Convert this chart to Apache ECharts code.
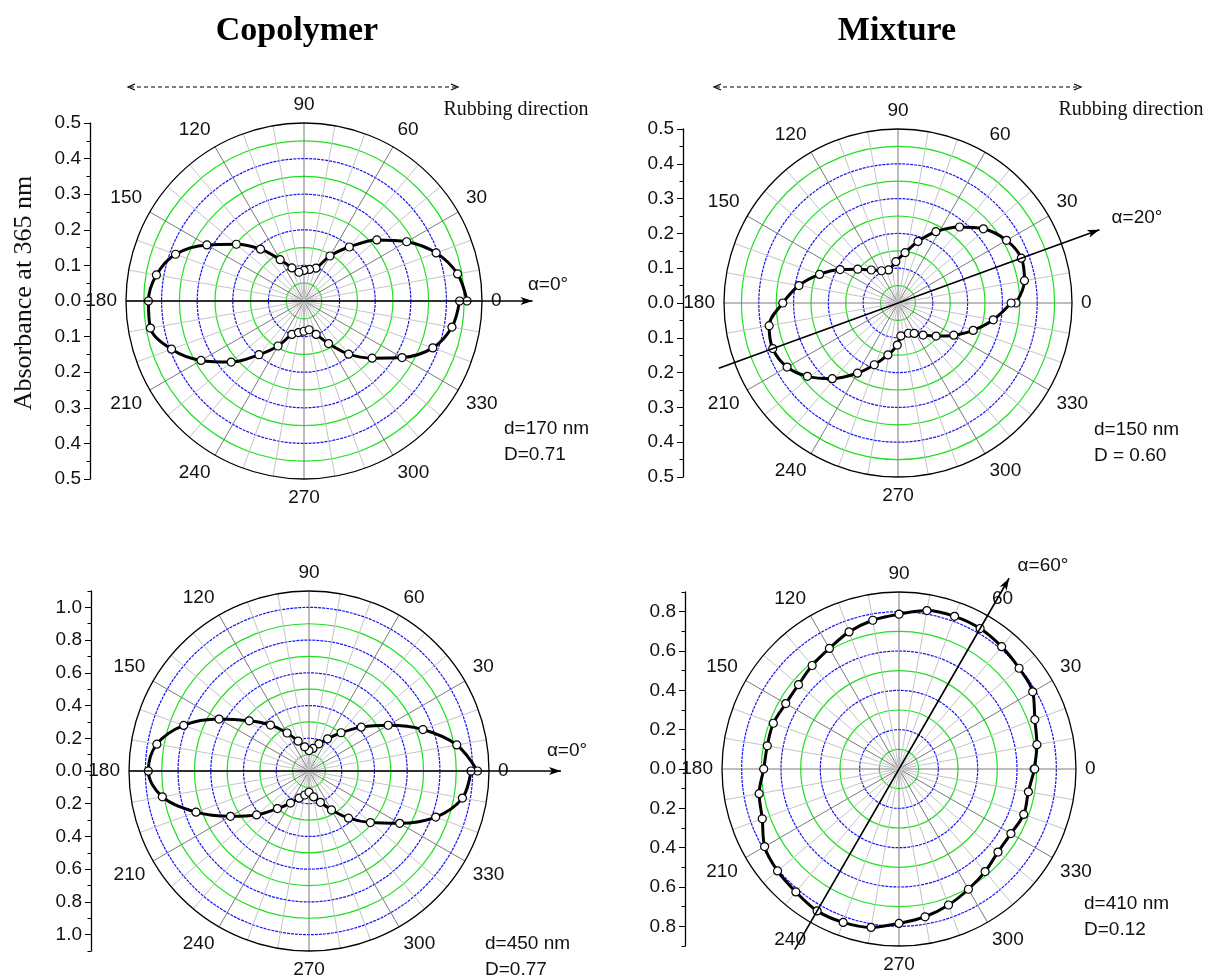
<!DOCTYPE html>
<html>
<head>
<meta charset="utf-8">
<script src="https://cdn.jsdelivr.net/npm/echarts@6/dist/echarts.min.js"></script>
<style>
  html, body { margin: 0; padding: 0; background: #fff; }
  #chart { width: 1208px; height: 979px; }
</style>
</head>
<body>
<div id="chart"></div>
<script>
// polar absorbance at 365 nm, angle in degrees
var copoThinAngle = [0,10,20,30,40,50,60,70,80,90,100,110,120,130,140,150,160,170,180,190,200,210,220,230,240,250,260,270,280,290,300,310,320,330,340,350,360];
var copoThinAbs   = [0.458,0.438,0.395,0.333,0.267,0.198,0.146,0.098,0.090,0.086,0.082,0.099,0.134,0.190,0.248,0.315,0.384,0.421,0.437,0.438,0.396,0.334,0.267,0.197,0.146,0.100,0.090,0.085,0.082,0.100,0.138,0.195,0.250,0.318,0.385,0.422,0.437];

var mixThinAngle = [0,10,20,30,41,51,62,72,82,93,106,117,129,140,150,160,170,180,190,200,210,219,229,240,249,259,269,275,289,298,308,319,330,340,350,360];
var mixThinAbs   = [0.339,0.369,0.377,0.360,0.325,0.281,0.232,0.186,0.146,0.119,0.099,0.104,0.122,0.151,0.192,0.240,0.289,0.331,0.376,0.383,0.368,0.335,0.288,0.233,0.190,0.152,0.121,0.095,0.092,0.099,0.117,0.145,0.185,0.230,0.278,0.325];

var copoThickAngle = [0,10,20,30,40,50,60,70,80,90,100,110,120,130,140,150,160,170,180,190,200,210,220,230,240,250,260,270,280,290,300,310,320,330,340,350,360];
var copoThickAbs   = [1.03,0.917,0.741,0.559,0.417,0.305,0.227,0.177,0.140,0.125,0.150,0.194,0.268,0.366,0.477,0.635,0.815,0.944,0.982,0.910,0.735,0.554,0.418,0.300,0.226,0.177,0.149,0.130,0.161,0.204,0.275,0.376,0.490,0.640,0.824,0.952,0.990];

var mixThickAngle = [0,10,20,30,40,50,60,70,80,90,100,110,120,130,140,150,160,170,180,190,200,210,220,230,240,250,260,270,280,290,300,310,320,330,340,350,360];
var mixThickAbs   = [0.687,0.712,0.735,0.785,0.797,0.812,0.825,0.826,0.818,0.787,0.768,0.742,0.708,0.687,0.667,0.665,0.680,0.680,0.688,0.722,0.740,0.789,0.806,0.816,0.833,0.830,0.818,0.785,0.763,0.736,0.706,0.681,0.657,0.657,0.675,0.668,0.690];

// radius scale of each panel
var radiusMax  = [0.5, 0.5, 1.1, 0.9];
var ringStep   = [0.05, 0.05, 0.1, 0.1];
var labelTicks = [
  [-0.5,-0.4,-0.3,-0.2,-0.1,0,0.1,0.2,0.3,0.4,0.5],
  [-0.5,-0.4,-0.3,-0.2,-0.1,0,0.1,0.2,0.3,0.4,0.5],
  [-1.0,-0.8,-0.6,-0.4,-0.2,0,0.2,0.4,0.6,0.8,1.0],
  [-0.8,-0.6,-0.4,-0.2,0,0.2,0.4,0.6,0.8]
];
var minorTicks = [
  [-0.45,-0.35,-0.25,-0.15,-0.05,0.05,0.15,0.25,0.35,0.45],
  [-0.45,-0.35,-0.25,-0.15,-0.05,0.05,0.15,0.25,0.35,0.45],
  [-1.1,-0.9,-0.7,-0.5,-0.3,-0.1,0.1,0.3,0.5,0.7,0.9,1.1],
  [-0.9,-0.7,-0.5,-0.3,-0.1,0.1,0.3,0.5,0.7,0.9]
];
// alignment direction lines: [start radius, start angle, tip radius, tip angle]
var alphaLines = [
  [0.5, 180, 0.642, 0],
  [0.548, 200, 0.616, 20],
  [1.1, 180, 1.54, 0],
  [1.06, 240, 1.12, 60]
];
var alphaText = ['\u03b1=0\u00b0', '\u03b1=20\u00b0', '\u03b1=0\u00b0', '\u03b1=60\u00b0'];
var filmText = [['d=170 nm', 'D=0.71'], ['d=150 nm', 'D = 0.60'], ['d=450 nm', 'D=0.77'], ['d=410 nm', 'D=0.12']];

var SANS = '"Liberation Sans", Arial, sans-serif';
var SERIF = '"Liberation Serif", "Times New Roman", serif';
var GREEN = '#1ee01e', BLUE = '#1414f5';

var layout = [
  { cx: 304, cy: 301, R: 178, axisX: 90,  alphaPos: [548, 285], notePos: [504, 429] },
  { cx: 898, cy: 303, R: 174, axisX: 683, alphaPos: [1137, 218], notePos: [1094, 430] },
  { cx: 309, cy: 771, R: 180, axisX: 91,  alphaPos: [567, 751], notePos: [485, 944] },
  { cx: 899, cy: 769, R: 177, axisX: 685, alphaPos: [1043, 566], notePos: [1084, 904] }
];
var series = [[copoThinAngle, copoThinAbs], [mixThinAngle, mixThinAbs], [copoThickAngle, copoThickAbs], [mixThickAngle, mixThickAbs]];

function rings(n, odd, color) {
  var c = [];
  for (var i = 0; i <= n; i++) {
    c.push(i > 0 && i < n && (i % 2 === 1) === odd ? color : 'none');
  }
  return c;
}

function hiddenAngle(idx) {
  return {
    polarIndex: idx, type: 'value', min: 0, max: 360, startAngle: 0, clockwise: false,
    axisLine: { show: false }, axisTick: { show: false }, axisLabel: { show: false }, splitLine: { show: false }
  };
}

var polar = [], angleAxis = [], radiusAxis = [], grid = [], xAxis = [], yAxis = [], allSeries = [], graphic = [];

layout.forEach(function (p, i) {
  var n = Math.round(radiusMax[i] / ringStep[i]);
  // main polar: spokes, outer circle, labels, green rings
  polar.push({ center: [p.cx, p.cy], radius: [0, p.R] });
  angleAxis.push({
    polarIndex: 2 * i, type: 'value', min: 0, max: 360, interval: 30,
    startAngle: 0, clockwise: false, z: 2,
    axisLine: { lineStyle: { color: '#000', width: 1.3 } },
    axisTick: { show: false },
    minorTick: { show: false, splitNumber: 3 },
    axisLabel: { margin: 9, color: '#111', fontSize: 19, fontFamily: SANS },
    splitLine: { show: true, lineStyle: { color: '#7a7a7a', width: 1 } },
    minorSplitLine: { show: true, lineStyle: { color: '#c4c4c4', width: 1 } }
  });
  radiusAxis.push({
    polarIndex: 2 * i, type: 'value', min: 0, max: radiusMax[i], interval: ringStep[i],
    axisLine: { show: false }, axisTick: { show: false }, axisLabel: { show: false },
    splitLine: { show: true, lineStyle: { color: rings(n, true, GREEN), width: 1.2 } }
  });
  // second polar: blue dotted rings
  polar.push({ center: [p.cx, p.cy], radius: [0, p.R] });
  angleAxis.push(hiddenAngle(2 * i + 1));
  radiusAxis.push({
    polarIndex: 2 * i + 1, type: 'value', min: 0, max: radiusMax[i], interval: ringStep[i],
    axisLine: { show: false }, axisTick: { show: false }, axisLabel: { show: false },
    splitLine: { show: true, lineStyle: { color: rings(n, false, BLUE), width: 1.2, type: [3, 1] } }
  });

  // vertical absorbance axis on the left
  grid.push({ left: p.axisX, top: p.cy - p.R, width: 10, height: 2 * p.R });
  xAxis.push({ gridIndex: i, type: 'value', show: false });
  yAxis.push({
    gridIndex: i, type: 'value', min: -radiusMax[i], max: radiusMax[i], position: 'left',
    axisLine: { show: true, lineStyle: { color: '#000', width: 1.3 } },
    axisTick: { show: true, length: 6, customValues: labelTicks[i], lineStyle: { color: '#000' } },
    axisLabel: {
      customValues: labelTicks[i], margin: 9, color: '#111', fontSize: 19, fontFamily: SANS,
      formatter: function (v) { return Math.abs(v).toFixed(1); }
    },
    splitLine: { show: false }
  });
  yAxis.push({
    gridIndex: i, type: 'value', min: -radiusMax[i], max: radiusMax[i], position: 'left',
    axisLine: { show: false },
    axisTick: { show: true, length: 3.5, customValues: minorTicks[i], lineStyle: { color: '#000' } },
    axisLabel: { show: false },
    splitLine: { show: false }
  });

  var ang = series[i][0], abs = series[i][1];
  allSeries.push({
    type: 'line', coordinateSystem: 'polar', polarIndex: 2 * i,
    data: ang.map(function (a, j) { return [abs[j], a]; }),
    smooth: 0.35, clip: false, z: 5,
    symbol: 'circle', symbolSize: 8,
    itemStyle: { color: '#fff', borderColor: '#000', borderWidth: 1.2 },
    lineStyle: { color: '#000', width: 3 }
  });

  graphic.push({ type: 'text', x: p.alphaPos[0], y: p.alphaPos[1],
    style: { text: alphaText[i], fill: '#111', font: '19px ' + SANS, textAlign: 'center', textVerticalAlign: 'middle' } });
  graphic.push({ type: 'text', x: p.notePos[0], y: p.notePos[1],
    style: { text: filmText[i][0], fill: '#111', font: '19px ' + SANS, textAlign: 'left', textVerticalAlign: 'middle' } });
  graphic.push({ type: 'text', x: p.notePos[0], y: p.notePos[1] + 26,
    style: { text: filmText[i][1], fill: '#111', font: '19px ' + SANS, textAlign: 'left', textVerticalAlign: 'middle' } });
});

// wider hidden polars (same scale) so the direction lines can run past the rim
layout.forEach(function (p, i) {
  var k = 8 + i;
  polar.push({ center: [p.cx, p.cy], radius: [0, 2 * p.R] });
  angleAxis.push(hiddenAngle(k));
  radiusAxis.push({ polarIndex: k, type: 'value', min: 0, max: 2 * radiusMax[i],
    axisLine: { show: false }, axisTick: { show: false }, axisLabel: { show: false }, splitLine: { show: false } });
  var al = alphaLines[i];
  allSeries.push({
    type: 'line', coordinateSystem: 'polar', polarIndex: k, z: 6, silent: true, symbol: 'none',
    data: [[al[0], al[1]], [al[2], al[3]]],
    lineStyle: { color: '#000', width: 1.6 }
  });
});

// titles, y label, rubbing direction arrows
graphic.push({ type: 'text', x: 297, y: 31, style: { text: 'Copolymer', fill: '#000', font: 'bold 34px ' + SERIF, textAlign: 'center', textVerticalAlign: 'middle' } });
graphic.push({ type: 'text', x: 897, y: 31, style: { text: 'Mixture', fill: '#000', font: 'bold 34px ' + SERIF, textAlign: 'center', textVerticalAlign: 'middle' } });
graphic.push({ type: 'text', x: 24, y: 293, rotation: Math.PI / 2,
  style: { text: 'Absorbance at 365 nm', fill: '#111', font: '26px ' + SERIF, textAlign: 'center', textVerticalAlign: 'middle' } });
[[128, 458, 516], [714, 1081, 1131]].forEach(function (r) {
  graphic.push({ type: 'line', shape: { x1: r[0] + 2, y1: 87, x2: r[1] - 2, y2: 87 }, style: { stroke: '#000', lineWidth: 1.2, lineDash: [4, 3] } });
  graphic.push({ type: 'polyline', shape: { points: [[r[0] + 7, 84], [r[0], 87], [r[0] + 7, 90]] }, style: { stroke: '#000', lineWidth: 1.2, fill: null } });
  graphic.push({ type: 'polyline', shape: { points: [[r[1] - 7, 84], [r[1], 87], [r[1] - 7, 90]] }, style: { stroke: '#000', lineWidth: 1.2, fill: null } });
  graphic.push({ type: 'text', x: r[2], y: 110, style: { text: 'Rubbing direction', fill: '#111', font: '20px ' + SERIF, textAlign: 'center', textVerticalAlign: 'middle' } });
});

var chart = echarts.init(document.getElementById('chart'));
chart.setOption({
  backgroundColor: '#fff',
  animation: false,
  polar: polar,
  angleAxis: angleAxis,
  radiusAxis: radiusAxis,
  grid: grid,
  xAxis: xAxis,
  yAxis: yAxis,
  series: allSeries,
  graphic: graphic
});

// arrow heads at the tips of the direction lines
alphaLines.forEach(function (al, i) {
  var tip = chart.convertToPixel({ polarIndex: 8 + i }, [al[2], al[3]]);
  var base = chart.convertToPixel({ polarIndex: 8 + i }, [al[2] - 0.05 * radiusMax[i], al[3]]);
  var dx = tip[0] - base[0], dy = tip[1] - base[1];
  var len = Math.sqrt(dx * dx + dy * dy);
  dx /= len; dy /= len;
  var bx = tip[0] - 12 * dx, by = tip[1] - 12 * dy;
  graphic.push({ type: 'polygon', z: 10,
    shape: { points: [[tip[0], tip[1]], [bx - 4 * dy, by + 4 * dx], [tip[0] - 9 * dx, tip[1] - 9 * dy], [bx + 4 * dy, by - 4 * dx]] },
    style: { fill: '#000' } });
});
chart.setOption({ graphic: graphic });
</script>
</body>
</html>
